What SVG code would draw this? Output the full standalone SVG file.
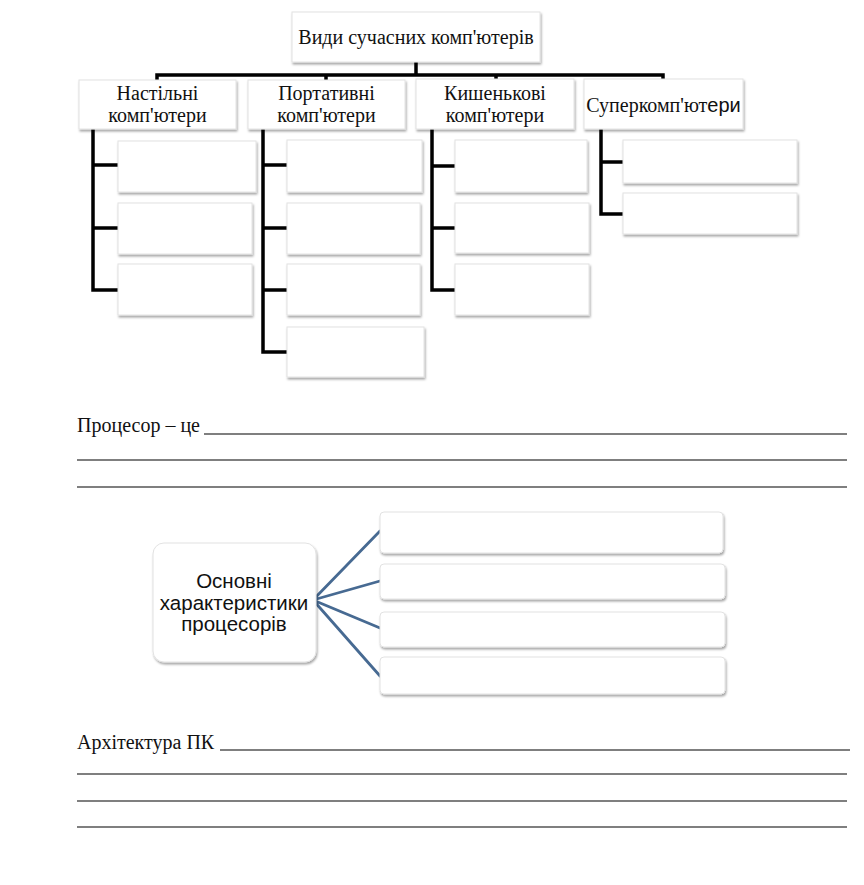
<svg xmlns="http://www.w3.org/2000/svg" width="864" height="885" viewBox="0 0 864 885">
<defs>
<filter id="sh" x="-10%" y="-20%" width="130%" height="160%">
<feDropShadow dx="1" dy="2" stdDeviation="1.3" flood-color="#000" flood-opacity="0.35"/>
</filter>
<style>
.box{fill:#fff;stroke:#e2e2e2;stroke-width:1;filter:url(#sh)}
.tree{fill:none;stroke:#000;stroke-width:3.5;stroke-linejoin:miter;stroke-linecap:square}
.fan{fill:none;stroke:#476a92;stroke-width:2.8;stroke-linecap:round}
.rule{stroke:#555;stroke-width:1.5}
.serif{font-family:"Liberation Serif","Times New Roman",serif;font-size:20px;fill:#111}
.sans{font-family:"Liberation Sans",Arial,sans-serif;font-size:20.5px;fill:#111}
</style>
</defs>
<rect width="864" height="885" fill="#fff"/>

<g id="connectors">
<path class="tree" d="M416 63V75M157 79V75H663V79M326 75V79M496 75V79"/>
<path class="tree" d="M93 131V290H118M93 165H118M93 228H118"/>
<path class="tree" d="M263 131V352H287M263 165H287M263 228H287M263 290H287"/>
<path class="tree" d="M432 131V290H455M432 166H455M432 228H455"/>
<path class="tree" d="M601 131V214H623M601 162H623"/>
<path class="fan" d="M313 600L380 531M313 600L380 581M313 600L380 628M313 600L380 676"/>
</g>

<g id="root"><rect class="box" x="292" y="12" width="248" height="50"/><text class="serif" x="416" y="44" text-anchor="middle">Види сучасних комп'ютерів</text></g>

<g id="desktop"><rect class="box" x="79" y="80" width="157" height="49"/><text class="serif" x="157.5" y="100" text-anchor="middle">Настільні</text><text class="serif" x="157.5" y="122" text-anchor="middle">комп'ютери</text></g>
<g id="portable"><rect class="box" x="248" y="80" width="157" height="49"/><text class="serif" x="326.5" y="100" text-anchor="middle">Портативні</text><text class="serif" x="326.5" y="122" text-anchor="middle">комп'ютери</text></g>
<g id="pocket"><rect class="box" x="416" y="79" width="158" height="50"/><text class="serif" x="495" y="100" text-anchor="middle">Кишенькові</text><text class="serif" x="495" y="122" text-anchor="middle">комп'ютери</text></g>
<g id="super"><rect class="box" x="584" y="79" width="159" height="50"/><text class="serif" x="663.5" y="112" text-anchor="middle">Суперкомп'ют<tspan font-family="Liberation Sans, Arial, sans-serif">ери</tspan></text></g>

<g id="d1"><rect class="box" x="118" y="141" width="138" height="51"/></g>
<g id="d2"><rect class="box" x="118" y="203" width="134" height="51"/></g>
<g id="d3"><rect class="box" x="118" y="264" width="134" height="51"/></g>

<g id="p1"><rect class="box" x="287" y="140" width="135" height="52"/></g>
<g id="p2"><rect class="box" x="287" y="203" width="133" height="51"/></g>
<g id="p3"><rect class="box" x="287" y="264" width="133" height="51"/></g>
<g id="p4"><rect class="box" x="287" y="327" width="137" height="50"/></g>

<g id="k1"><rect class="box" x="455" y="140" width="132" height="52"/></g>
<g id="k2"><rect class="box" x="455" y="203" width="134" height="50"/></g>
<g id="k3"><rect class="box" x="455" y="264" width="134" height="51"/></g>

<g id="s1"><rect class="box" x="623" y="140" width="174" height="43"/></g>
<g id="s2"><rect class="box" x="623" y="193" width="174" height="41"/></g>

<g id="text1">
<text class="serif" x="77" y="432">Процесор – це</text>
<line class="rule" x1="204" y1="434" x2="847" y2="434"/>
<line class="rule" x1="77" y1="460" x2="847" y2="460"/>
<line class="rule" x1="77" y1="487" x2="847" y2="487"/>
</g>

<g id="cpu"><rect class="box" x="153" y="543" width="163" height="119" rx="11"/>
<text class="sans" x="234" y="588" text-anchor="middle">Основні</text>
<text class="sans" x="234" y="610" text-anchor="middle">характеристики</text>
<text class="sans" x="234" y="631" text-anchor="middle">процесорів</text></g>
<g id="c1"><rect class="box" x="380" y="512" width="343" height="41" rx="4"/></g>
<g id="c2"><rect class="box" x="380" y="564" width="345" height="35" rx="4"/></g>
<g id="c3"><rect class="box" x="380" y="612" width="345" height="35" rx="4"/></g>
<g id="c4"><rect class="box" x="380" y="657" width="345" height="37" rx="4"/></g>

<g id="text2">
<text class="serif" x="77" y="749">Архітектура ПК</text>
<line class="rule" x1="220" y1="750" x2="850" y2="750"/>
<line class="rule" x1="77" y1="774" x2="847" y2="774"/>
<line class="rule" x1="77" y1="801" x2="847" y2="801"/>
<line class="rule" x1="77" y1="827" x2="847" y2="827"/>
</g>
</svg>
